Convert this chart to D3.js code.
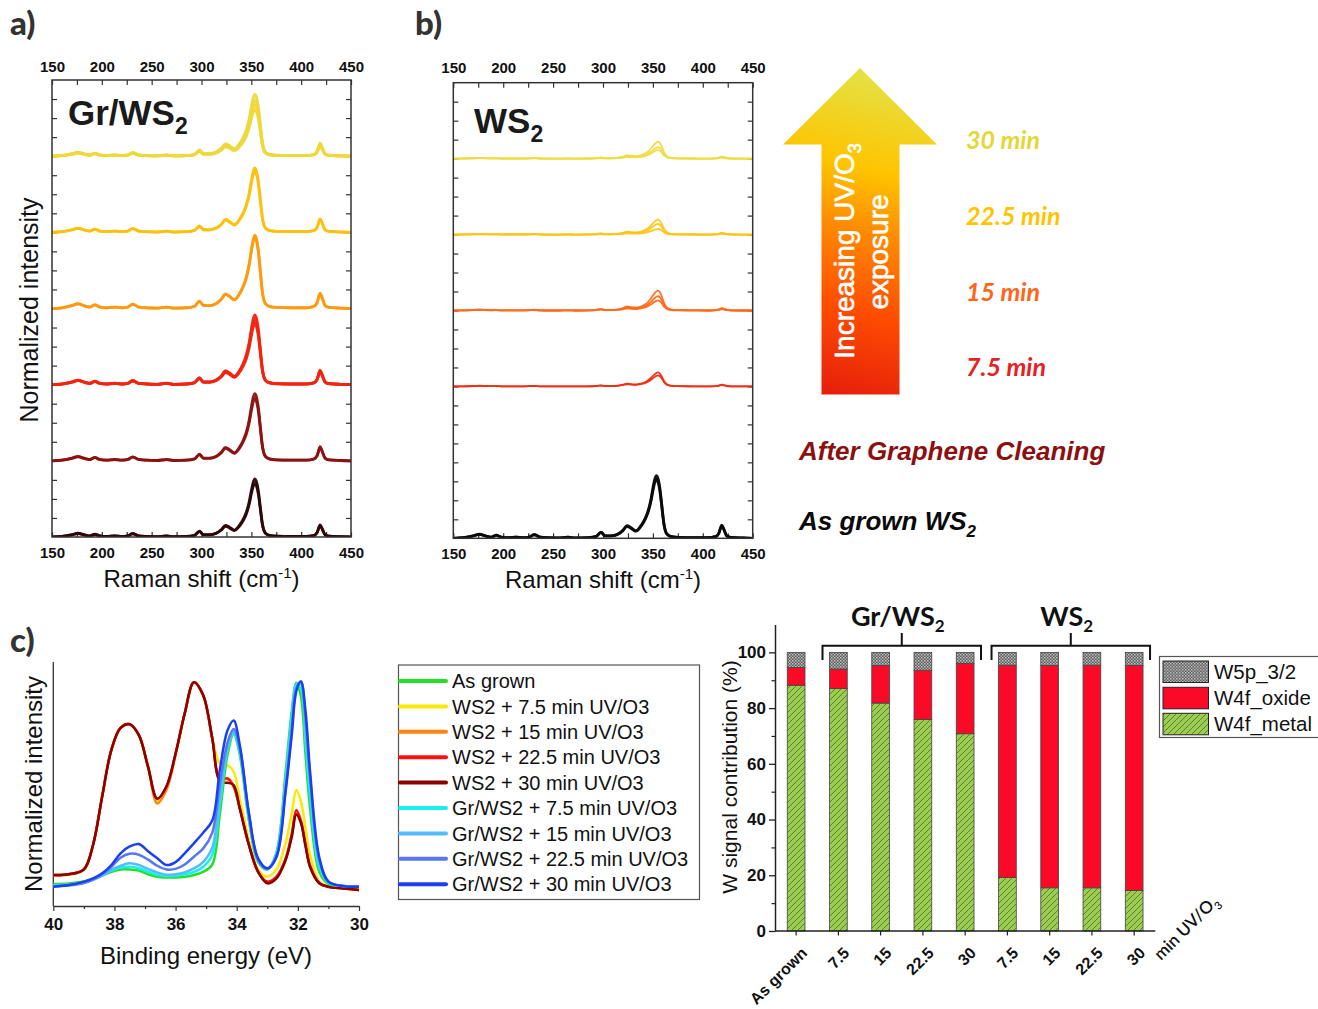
<!DOCTYPE html>
<html>
<head>
<meta charset="utf-8">
<title>UV/O3 exposure of WS2 and Gr/WS2</title>
<script src="https://cdn.jsdelivr.net/npm/d3@7/dist/d3.min.js"></script>
<style>
  html, body { margin: 0; padding: 0; background: #fff; }
  svg { display: block; }
  .arial { font-family: "Liberation Sans", Arial, Helvetica, sans-serif; }
  .gill { font-family: Lato, "Open Sans", sans-serif; }
</style>
</head>
<body>
<svg id="fig" width="1318" height="1009"></svg>
<script>
// ---------- Raman spectra (panels a and b) ----------
const ramanShift = [150,160,170,176,183,188,193,198,205,213,220,226,231,237,245,255,265,272,285,293,
  298,302,308,315,320,324,328,333,338,342,345,348,350,352,353.5,355,357,359,361,364,
  368,375,390,405,413,416,419,421,424,428,440,450];
// Gr/WS2 (and as-grown WS2) line shape, main peak normalised to 1
const grWS2Profile = [0.00,0.01,0.04,0.065,0.035,0.02,0.05,0.02,0.01,0.02,0.01,0.02,0.06,0.02,0.01,0.005,0.02,0.005,0.01,0.03,
  0.10,0.04,0.04,0.07,0.13,0.20,0.17,0.12,0.20,0.31,0.43,0.62,0.80,0.95,1.0,0.96,0.80,0.52,0.24,0.07,
  0.03,0.015,0.01,0.01,0.03,0.08,0.21,0.15,0.04,0.015,0.005,0.0];
// bare WS2 after UV/O3 exposure
const oxWS2Profile = [0.00,0.01,0.03,0.05,0.03,0.02,0.03,0.01,0.01,0.01,0.01,0.02,0.04,0.01,0.0,0.0,0.01,0.0,0.01,0.03,
  0.08,0.03,0.03,0.06,0.12,0.20,0.17,0.15,0.20,0.30,0.42,0.60,0.75,0.88,0.96,1.0,0.92,0.70,0.40,0.15,
  0.05,0.02,0.01,0.0,0.02,0.06,0.12,0.10,0.04,0.01,0.0,0.0];

// vertical offsets of the stacked spectra and main-peak heights of the overlaid spectra
const grOffsets = [20, 16, 12, 8, 4, 0];
const grPeaks = [[3.25, 2.95, 2.7, 2.45], [3.38, 3.2], [3.85, 3.72], [3.66, 3.42, 3.2], [3.53, 3.27], [3.05, 2.82]];
const wsOffsets = [20, 16, 12, 8, 0];
const wsPeaks = [[0.89, 0.6, 0.45], [0.79, 0.56, 0.3], [1.05, 0.75, 0.53], [0.74, 0.58], [3.3, 3.12]];
const ramanTicks = [150, 200, 250, 300, 350, 400, 450];
const exposureLabels = ["30 min", "22.5 min", "15 min", "7.5 min"];

// ---------- W 4f XPS (panel c) ----------
const xpsEnergy = [40,39.5,39,38.7,38.4,38.1,37.8,37.5,37.2,36.9,36.6,36.3,36.0,35.7,35.4,35.1,34.8,34.55,34.3,34.1,
  33.9,33.6,33.3,33.0,32.7,32.4,32.2,32.05,31.9,31.75,31.6,31.3,31.0,30.5,30.0];
const xpsAsGrown = [0.090,0.092,0.10,0.11,0.125,0.14,0.15,0.15,0.145,0.13,0.12,0.117,0.117,0.12,0.127,0.14,0.17,0.38,0.62,0.705,
  0.62,0.35,0.18,0.15,0.22,0.55,0.80,0.915,0.86,0.62,0.40,0.14,0.09,0.082,0.08];
const xpsWS2_7_5 = [0.127,0.130,0.150,0.25,0.45,0.64,0.73,0.745,0.70,0.57,0.43,0.48,0.62,0.79,0.917,0.865,0.69,0.585,0.578,0.55,
  0.44,0.27,0.15,0.12,0.15,0.26,0.38,0.475,0.43,0.32,0.21,0.10,0.08,0.072,0.066];
const xpsWS2_15 = [0.125,0.128,0.148,0.25,0.45,0.64,0.73,0.745,0.70,0.57,0.42,0.475,0.62,0.79,0.917,0.865,0.688,0.52,0.52,0.49,
  0.40,0.25,0.14,0.098,0.117,0.19,0.29,0.385,0.345,0.25,0.162,0.094,0.079,0.072,0.066];
const xpsWS2_22_5 = [0.127,0.130,0.150,0.25,0.45,0.64,0.73,0.745,0.70,0.57,0.44,0.49,0.625,0.79,0.917,0.865,0.687,0.52,0.523,0.49,
  0.40,0.25,0.14,0.10,0.12,0.195,0.295,0.393,0.35,0.255,0.165,0.095,0.079,0.072,0.066];
const xpsWS2_30 = [0.127,0.130,0.150,0.25,0.45,0.64,0.73,0.745,0.70,0.57,0.44,0.49,0.625,0.79,0.917,0.865,0.687,0.51,0.505,0.496,
  0.40,0.25,0.14,0.093,0.113,0.188,0.283,0.375,0.34,0.245,0.16,0.093,0.079,0.072,0.066];
const xpsGr_7_5 = [0.085,0.088,0.097,0.108,0.125,0.145,0.158,0.161,0.155,0.14,0.128,0.123,0.124,0.13,0.14,0.16,0.21,0.42,0.64,0.71,
  0.63,0.36,0.185,0.15,0.215,0.52,0.78,0.91,0.89,0.68,0.45,0.16,0.095,0.082,0.08];
const xpsGr_15 = [0.082,0.086,0.095,0.107,0.126,0.148,0.165,0.175,0.168,0.152,0.138,0.128,0.13,0.138,0.154,0.18,0.24,0.45,0.65,0.715,
  0.64,0.37,0.19,0.152,0.21,0.50,0.75,0.90,0.91,0.73,0.50,0.18,0.10,0.082,0.08];
const xpsGr_22_5 = [0.08,0.084,0.094,0.108,0.13,0.16,0.198,0.214,0.21,0.19,0.165,0.15,0.152,0.17,0.202,0.235,0.30,0.50,0.67,0.725,
  0.65,0.375,0.19,0.152,0.205,0.48,0.72,0.89,0.92,0.77,0.53,0.19,0.10,0.081,0.079];
const xpsGr_30 = [0.079,0.086,0.10,0.113,0.134,0.168,0.216,0.244,0.254,0.224,0.196,0.168,0.18,0.216,0.257,0.30,0.35,0.56,0.72,0.76,
  0.66,0.38,0.195,0.155,0.20,0.47,0.70,0.88,0.92,0.80,0.55,0.20,0.10,0.081,0.079];
const xpsLabels = ["As grown", "WS2 + 7.5 min UV/O3", "WS2 + 15 min UV/O3", "WS2 + 22.5 min UV/O3", "WS2 + 30 min UV/O3",
  "Gr/WS2 + 7.5 min UV/O3", "Gr/WS2 + 15 min UV/O3", "Gr/WS2 + 22.5 min UV/O3", "Gr/WS2 + 30 min UV/O3"];
const xpsTicks = [40, 38, 36, 34, 32, 30];

// ---------- W signal contributions (panel d) ----------
const barLabels = ["As grown", "7.5", "15", "22.5", "30", "7.5", "15", "22.5", "30"];
const w4fMetal = [88.2, 87.0, 81.8, 75.9, 70.8, 19.2, 15.5, 15.5, 14.5];
const w4fOxide = [6.4, 7.0, 13.5, 17.7, 25.2, 76.2, 79.8, 79.9, 80.8];
const w5p32 = [5.4, 6.0, 4.7, 6.4, 4.0, 4.6, 4.7, 4.6, 4.7];
const barKeys = ["W4f_metal", "W4f_oxide", "W5p_3/2"];
const barTicks = [0, 20, 40, 60, 80, 100];

// ---------- styles ----------
const grColors = ["#eed83a", "#fdc010", "#ff9a10", "#f22410", "#8c1212", "#2c0606"];
const wsColors = ["#eedc40", "#ffc418", "#ff6a1c", "#f02c12", "#0a0a0a"];
const exposureColors = ["#e6d634", "#ffc400", "#ff6418", "#e82020"];
const xpsColors = ["#22e022", "#f8ea00", "#ff8410", "#ff1010", "#8b0000", "#18f0f0", "#55bbff", "#5878ee", "#1c40f0"];
const xpsDrawOrder = [1, 2, 3, 4, 0, 5, 6, 7, 8];

const svg = d3.select("#fig");
svg.append("rect").attr("width", 1318).attr("height", 1009).attr("fill", "#fff");
const defs = svg.append("defs");

function richText(parent, x, y, parts, attrs) {
  const t = parent.append("text").attr("x", x).attr("y", y);
  for (const k in attrs) t.attr(k, attrs[k]);
  let prev = 0;
  parts.forEach(([str, shift = 0, size = null]) => {
    const s = t.append("tspan").attr("dy", shift - prev).text(str);
    if (size) s.attr("font-size", size);
    prev = shift;
  });
  return t;
}

// ---------- Raman panel builder ----------
function ramanPanel(id, box, offsets, peaks, profiles, colors, widths) {
  const g = svg.append("g");
  const x = d3.scaleLinear().domain([150, 450]).range([box.left, box.right]);
  const y = d3.scaleLinear().domain([0, 24]).range([box.bottom, box.top]);
  defs.append("clipPath").attr("id", id).append("rect")
    .attr("x", box.left).attr("y", box.top)
    .attr("width", box.right - box.left).attr("height", box.bottom - box.top);

  const fmt = d => (ramanTicks.includes(d) ? d : "");
  const minor = d3.range(150, 451, 25);
  const styleAxis = sel => {
    sel.select(".domain").remove();
    sel.selectAll(".tick line").attr("stroke", "#333").attr("stroke-width", 1.2);
    sel.selectAll("text").attr("class", "arial").attr("font-size", 15).attr("font-weight", "bold").attr("fill", "#111");
  };
  g.append("g").attr("transform", `translate(0,${box.top})`)
    .call(d3.axisTop(x).tickValues(minor).tickFormat(fmt).tickSize(-5).tickSizeOuter(0).tickPadding(box.padTop))
    .call(styleAxis);
  g.append("g").attr("transform", `translate(0,${box.bottom})`)
    .call(d3.axisBottom(x).tickValues(minor).tickFormat(fmt).tickSize(-5).tickSizeOuter(0).tickPadding(box.padBottom))
    .call(styleAxis);
  g.append("g").attr("transform", `translate(${box.left},0)`)
    .call(d3.axisLeft(y).tickValues(d3.range(1, 24)).tickFormat("").tickSize(-5).tickSizeOuter(0))
    .call(styleAxis);
  g.append("g").attr("transform", `translate(${box.right},0)`)
    .call(d3.axisRight(y).tickValues(d3.range(1, 24)).tickFormat("").tickSize(-5).tickSizeOuter(0))
    .call(styleAxis);

  const line = d3.line().x(d => x(d[0])).y(d => y(d[1])).curve(d3.curveMonotoneX);
  const lg = g.append("g").attr("clip-path", `url(#${id})`);
  offsets.forEach((off, gi) => {
    const prof = profiles[gi];
    peaks[gi].forEach(h => {
      const pts = ramanShift.map((s, i) => [s, off + prof[i] * h]);
      lg.append("path").attr("d", line(pts)).attr("fill", "none")
        .attr("stroke", colors[gi]).attr("stroke-width", widths[gi])
        .attr("stroke-linejoin", "round").attr("opacity", 0.95);
    });
  });

  g.append("rect").attr("x", box.left).attr("y", box.top)
    .attr("width", box.right - box.left).attr("height", box.bottom - box.top)
    .attr("fill", "none").attr("stroke", "#333").attr("stroke-width", 1.5);

  richText(g, (box.left + box.right) / 2, box.bottom + 50,
    [["Raman shift (cm"], ["-1", -9, 15], [")", 0]],
    { class: "arial", "font-size": 24, "text-anchor": "middle", fill: "#111" });
  return { g, x, y };
}

// panel a: Gr/WS2
const pa = ramanPanel("clipA", { left: 52, right: 351, top: 80, bottom: 537, padTop: 8, padBottom: 10 },
  grOffsets, grPeaks, grOffsets.map(() => grWS2Profile), grColors, grOffsets.map(() => 2.8));
richText(pa.g, 68, 125, [["Gr/WS"], ["2", 9, 23]],
  { class: "arial", "font-size": 35, "font-weight": "bold", fill: "#1a1a1a" });
pa.g.append("text").attr("class", "arial").attr("font-size", 25).attr("fill", "#111")
  .attr("text-anchor", "middle").attr("transform", "translate(38,310) rotate(-90)")
  .text("Normalized intensity");

// panel b: bare WS2
const pb = ramanPanel("clipB", { left: 453.3, right: 752.7, top: 82.7, bottom: 538.3, padTop: 10, padBottom: 10 },
  wsOffsets, wsPeaks, [oxWS2Profile, oxWS2Profile, oxWS2Profile, oxWS2Profile, grWS2Profile], wsColors,
  [1.8, 1.8, 1.8, 1.8, 2.8]);
richText(pb.g, 474, 133, [["WS"], ["2", 9, 23]],
  { class: "arial", "font-size": 35, "font-weight": "bold", fill: "#1a1a1a" });

// ---------- exposure arrow and labels ----------
const grad = defs.append("linearGradient").attr("id", "uvGrad")
  .attr("gradientUnits", "userSpaceOnUse").attr("x1", 830).attr("y1", 400).attr("x2", 905).attr("y2", 90);
[[0, "#e51c0c"], [0.3, "#ff4e00"], [0.55, "#ff8e00"], [0.73, "#ffc400"], [1, "#e6df3e"]]
  .forEach(([o, c]) => grad.append("stop").attr("offset", o).attr("stop-color", c));
svg.append("path")
  .attr("d", "M860,68 L937,144.5 L899.5,144.5 L899.5,394.5 L821.5,394.5 L821.5,144.5 L783,144.5 Z")
  .attr("fill", "url(#uvGrad)");
richText(svg, 0, 0, [["Increasing UV/O"], ["3", 7, 18]],
  { class: "arial", "font-size": 28, fill: "#fff", stroke: "#fff", "stroke-width": 0.6,
    "text-anchor": "middle", transform: "translate(854,251) rotate(-90)" });
svg.append("text").attr("class", "arial").attr("font-size", 28).attr("fill", "#fff")
  .attr("stroke", "#fff").attr("stroke-width", 0.6)
  .attr("text-anchor", "middle").attr("transform", "translate(888,252) rotate(-90)").text("exposure");

exposureLabels.forEach((lbl, i) => {
  svg.append("text").attr("class", "gill").attr("x", 966).attr("y", pb.y(wsOffsets[i]) - 10)
    .attr("font-size", 25).attr("font-weight", 700).attr("font-style", "italic")
    .attr("fill", exposureColors[i]).text(lbl);
});
svg.append("text").attr("class", "arial").attr("x", 799).attr("y", pa.y(grOffsets[4]) - 1)
  .attr("font-size", 26).attr("font-weight", "bold").attr("font-style", "italic").attr("fill", "#8b1010")
  .text("After Graphene Cleaning");
richText(svg, 799, pa.y(grOffsets[5]) - 7, [["As grown WS"], ["2", 7, 17]],
  { class: "arial", "font-size": 26, "font-weight": "bold", "font-style": "italic", fill: "#0a0a0a" });

// ---------- panel c: XPS ----------
const xc = d3.scaleLinear().domain([40, 30]).range([53.3, 359]);
const yc = d3.scaleLinear().domain([0, 1]).range([906, 662]);
const gc = svg.append("g");
gc.append("line").attr("x1", 53.3).attr("x2", 53.3).attr("y1", 662).attr("y2", 906)
  .attr("stroke", "#333").attr("stroke-width", 1.3);
gc.append("g").attr("transform", "translate(0,906)")
  .call(d3.axisBottom(xc).tickValues(d3.range(30, 40.01, 1)).tickSize(5).tickSizeOuter(0).tickPadding(7)
    .tickFormat(d => (xpsTicks.includes(d) ? d : "")))
  .call(sel => {
    sel.select(".domain").attr("stroke", "#333").attr("stroke-width", 1.3);
    sel.selectAll(".tick line").attr("stroke", "#333").attr("stroke-width", 1.2)
      .attr("y2", d => (xpsTicks.includes(d) ? 5 : 3));
    sel.selectAll("text").attr("class", "arial").attr("font-size", 17).attr("font-weight", "bold").attr("fill", "#111");
  });
const xpsSeries = [xpsAsGrown, xpsWS2_7_5, xpsWS2_15, xpsWS2_22_5, xpsWS2_30, xpsGr_7_5, xpsGr_15, xpsGr_22_5, xpsGr_30];
const xpsLine = d3.line().x(d => xc(d[0])).y(d => yc(d[1])).curve(d3.curveCatmullRom.alpha(0.5));
xpsDrawOrder.forEach(si => {
  gc.append("path").attr("d", xpsLine(xpsEnergy.map((e, i) => [e, xpsSeries[si][i]])))
    .attr("fill", "none").attr("stroke", xpsColors[si]).attr("stroke-width", 2.5).attr("stroke-linejoin", "round");
});
gc.append("text").attr("class", "arial").attr("font-size", 24).attr("fill", "#111")
  .attr("text-anchor", "middle").attr("x", 206).attr("y", 964).text("Binding energy (eV)");
gc.append("text").attr("class", "arial").attr("font-size", 24).attr("fill", "#111")
  .attr("text-anchor", "middle").attr("transform", "translate(42,784) rotate(-90)").text("Normalized intensity");

// legend
const lgc = svg.append("g");
lgc.append("rect").attr("x", 398.5).attr("y", 665).attr("width", 301).attr("height", 234.5)
  .attr("fill", "#fff").attr("stroke", "#555").attr("stroke-width", 1.2);
xpsLabels.forEach((lbl, i) => {
  const yy = 681 + i * 25.4;
  lgc.append("line").attr("x1", 400).attr("x2", 446).attr("y1", yy).attr("y2", yy)
    .attr("stroke", xpsColors[i]).attr("stroke-width", 4).attr("stroke-linecap", "round");
  lgc.append("text").attr("class", "arial").attr("x", 452).attr("y", yy).attr("dy", "0.36em")
    .attr("font-size", 20).attr("fill", "#111").text(lbl);
});

// ---------- panel d: stacked bars ----------
const metalPat = defs.append("pattern").attr("id", "metalHatch").attr("patternUnits", "userSpaceOnUse")
  .attr("width", 6).attr("height", 6);
metalPat.append("rect").attr("width", 6).attr("height", 6).attr("fill", "#9bcd52");
metalPat.append("path").attr("d", "M0,6 L6,0 M-1.5,1.5 L1.5,-1.5 M4.5,7.5 L7.5,4.5")
  .attr("stroke", "#3f5e1c").attr("stroke-width", 0.7);
const w5pPat = defs.append("pattern").attr("id", "w5pDots").attr("patternUnits", "userSpaceOnUse")
  .attr("width", 3).attr("height", 3);
w5pPat.append("rect").attr("width", 3).attr("height", 3).attr("fill", "#5e5e5e");
w5pPat.append("rect").attr("width", 1.5).attr("height", 1.5).attr("fill", "#c4c4c4");
w5pPat.append("rect").attr("x", 1.5).attr("y", 1.5).attr("width", 1.5).attr("height", 1.5).attr("fill", "#a8a8a8");
const barFills = { "W4f_metal": "url(#metalHatch)", "W4f_oxide": "#fb0a28", "W5p_3/2": "url(#w5pDots)" };

const axL = 775, axR = 1155.3;
const xb = d3.scaleBand().domain(d3.range(barLabels.length)).range([axL, axR]).paddingInner(0.58).paddingOuter(0.29);
const yb = d3.scaleLinear().domain([0, 110]).range([931, 624.5]);
const rows = barLabels.map((l, i) => ({ i, "W4f_metal": w4fMetal[i], "W4f_oxide": w4fOxide[i], "W5p_3/2": w5p32[i] }));
const stacked = d3.stack().keys(barKeys)(rows);
const gd = svg.append("g");
stacked.forEach(layer => {
  gd.append("g").selectAll("rect").data(layer).join("rect")
    .attr("x", d => xb(d.data.i)).attr("width", xb.bandwidth())
    .attr("y", d => yb(d[1])).attr("height", d => yb(d[0]) - yb(d[1]))
    .attr("fill", barFills[layer.key]).attr("stroke", "#444").attr("stroke-width", 0.8);
});
// y axis
gd.append("g").attr("transform", `translate(${axL},0)`)
  .call(d3.axisLeft(yb).tickValues(barTicks).tickSize(6).tickSizeOuter(0).tickPadding(3))
  .call(sel => {
    sel.select(".domain").attr("stroke", "#222").attr("stroke-width", 1.5);
    sel.selectAll(".tick line").attr("stroke", "#222").attr("stroke-width", 1.3);
    sel.selectAll("text").attr("class", "arial").attr("font-size", 17).attr("font-weight", "bold").attr("fill", "#111");
  });
gd.append("g").attr("transform", `translate(${axL},0)`)
  .call(d3.axisLeft(yb).tickValues([10, 30, 50, 70, 90]).tickSize(3.5).tickFormat(""))
  .call(sel => { sel.select(".domain").remove(); sel.selectAll(".tick line").attr("stroke", "#222").attr("stroke-width", 1.2); });
// x axis
gd.append("line").attr("x1", axL).attr("x2", axR).attr("y1", 931).attr("y2", 931)
  .attr("stroke", "#222").attr("stroke-width", 1.5);
barLabels.forEach((lbl, i) => {
  const cx = xb(i) + xb.bandwidth() / 2;
  gd.append("line").attr("x1", cx).attr("x2", cx).attr("y1", 931).attr("y2", 935.5).attr("stroke", "#222").attr("stroke-width", 1.2);
  gd.append("text").attr("class", "arial").attr("font-size", 16).attr("font-weight", "bold").attr("fill", "#111")
    .attr("text-anchor", "end").attr("transform", `translate(${cx + 12},954) rotate(-45)`).text(lbl);
});
richText(gd, 0, 0, [["min UV/O"], ["3", 5, 11]],
  { class: "gill", "font-size": 17, "font-weight": 600, fill: "#111", transform: "translate(1161,961) rotate(-45)" });
gd.append("text").attr("class", "arial").attr("font-size", 21).attr("fill", "#111")
  .attr("text-anchor", "middle").attr("transform", "translate(737,777) rotate(-90)").text("W signal contribution (%)");

// group brackets
function bracket(i0, i1, parts) {
  const l = xb(i0) - 7, r = xb(i1) + xb.bandwidth() + 7, m = (l + r) / 2;
  gd.append("path").attr("d", `M${l},660 L${l},645.7 L${r},645.7 L${r},660 M${m},645.7 L${m},633`)
    .attr("fill", "none").attr("stroke", "#111").attr("stroke-width", 2);
  richText(gd, m - 4, 626, parts, { class: "gill", "font-size": 27, "font-weight": 700, "text-anchor": "middle", fill: "#111" });
}
bracket(1, 4, [["Gr/WS"], ["2", 6, 17]]);
bracket(5, 8, [["WS"], ["2", 6, 17]]);

// legend
const lgd = svg.append("g");
lgd.append("rect").attr("x", 1159.5).attr("y", 656.5).attr("width", 165).attr("height", 81)
  .attr("fill", "#fff").attr("stroke", "#555").attr("stroke-width", 1.2);
[["W5p_3/2", 661], ["W4f_oxide", 687.3], ["W4f_metal", 713.3]].forEach(([k, yy]) => {
  lgd.append("rect").attr("x", 1163).attr("y", yy).attr("width", 45.5).attr("height", 21.5)
    .attr("fill", barFills[k]).attr("stroke", "#222").attr("stroke-width", 1);
  lgd.append("text").attr("class", "arial").attr("x", 1214).attr("y", yy + 18).attr("font-size", 20.5)
    .attr("fill", "#111").text(k);
});

// panel letters
[["a)", 10, 35], ["b)", 415, 35], ["c)", 10, 652]].forEach(([t, xx, yy]) => {
  svg.append("text").attr("class", "gill").attr("x", xx).attr("y", yy).attr("font-size", 33)
    .attr("font-weight", 900).attr("fill", "#333").text(t);
});
</script>
</body>
</html>
